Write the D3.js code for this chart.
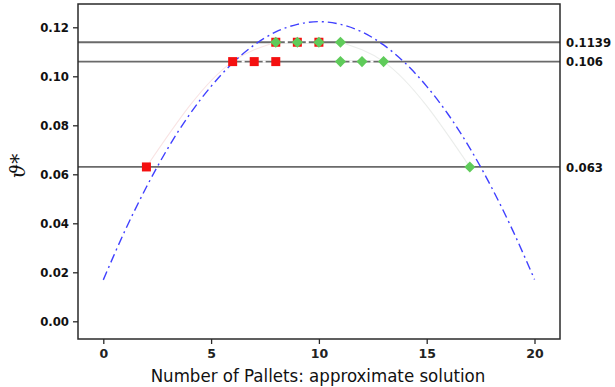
<!DOCTYPE html>
<html>
<head>
<meta charset="utf-8">
<script src="https://cdn.jsdelivr.net/npm/d3@7"></script>
<style>
  html, body { margin: 0; padding: 0; background: #fff; }
  svg { display: block; }
</style>
</head>
<body>
<svg id="chart" width="615" height="387"></svg>
<script>
// Number of pallets (x) and the theta* curve sampled at each count
const pallets = [0, 1, 2, 3, 4, 5, 6, 7, 8, 9, 10, 11, 12, 13, 14, 15, 16, 17, 18, 19, 20];
const thetaCurve = [0.0169, 0.0369, 0.0548, 0.0707, 0.0844, 0.0959, 0.1054, 0.1128, 0.1181, 0.1212, 0.1223,
                    0.1212, 0.1181, 0.1128, 0.1054, 0.0959, 0.0844, 0.0707, 0.0548, 0.0369, 0.0171];

// Threshold levels drawn as horizontal reference lines
const levels = [0.1139, 0.106, 0.063];
const levelLabels = ["0.1139", "0.106", "0.063"];

// Approximate solutions: left branch (red squares) and right branch (green diamonds)
const redX = [2, 6, 7, 8, 8, 9, 10];
const redY = [0.063, 0.106, 0.106, 0.106, 0.1139, 0.1139, 0.1139];
const greenX = [8, 9, 10, 11, 11, 12, 13, 17];
const greenY = [0.1139, 0.1139, 0.1139, 0.1139, 0.106, 0.106, 0.106, 0.063];

const xTicks = [0, 5, 10, 15, 20];
const yTicks = [0.00, 0.02, 0.04, 0.06, 0.08, 0.10, 0.12];

const svg = d3.select("#chart");
const frame = { left: 78, right: 560, top: 4, bottom: 339 };

const x = d3.scaleLinear().domain([0, 20]).range([103.3, 534.5]);
const y = d3.scaleLinear().domain([0, 0.12]).range([321.3, 27.3]);

const labelFont = "'DejaVu Sans Condensed', 'DejaVu Sans', sans-serif";

// Reference lines
svg.append("g").selectAll("line").data(levels).join("line")
  .attr("x1", frame.left).attr("x2", frame.right)
  .attr("y1", d => y(d)).attr("y2", d => y(d))
  .attr("stroke", "#6a6a6a").attr("stroke-width", 1.8);

// Series connectors at each level (broken dash-dot overlay)
function groupByLevel(xs, ys) {
  const g = d3.group(xs.map((v, i) => [v, ys[i]]), d => d[1]);
  return Array.from(g.values()).filter(a => a.length > 1);
}
const connector = d3.line().x(d => x(d[0])).y(d => y(d[1]));
svg.append("g").selectAll("path")
  .data(groupByLevel(redX, redY).concat(groupByLevel(greenX.slice(4), greenY.slice(4))))
  .join("path")
  .attr("d", connector)
  .attr("fill", "none")
  .attr("stroke", "#fff")
  .attr("stroke-width", 2.4)
  .attr("stroke-dasharray", "2,7,3,9");

// Faint branch curves through the outer solutions
const faint = d3.line().x(d => x(d[0])).y(d => y(d[1])).curve(d3.curveMonotoneX);
const redBranch = [[redX[0], redY[0]], [redX[1], redY[1]], [redX[4], redY[4]]];
const greenBranch = [[greenX[3], greenY[3]], [greenX[6], greenY[6]], [greenX[7], greenY[7]]];
svg.append("path").attr("d", faint(redBranch)).attr("fill", "none")
  .attr("stroke", "#f9e4e4").attr("stroke-width", 1.1);
svg.append("path").attr("d", faint(greenBranch)).attr("fill", "none")
  .attr("stroke", "#ebedeb").attr("stroke-width", 1.1);

// Theta* curve
const curve = d3.line().x((d, i) => x(pallets[i])).y(d => y(d)).curve(d3.curveMonotoneX);
svg.append("path").attr("d", curve(thetaCurve))
  .attr("fill", "none")
  .attr("stroke", "#4040ff")
  .attr("stroke-width", 1.4)
  .attr("stroke-dasharray", "9,4,2,4");

// Red squares
const sq = 9;
svg.append("g").selectAll("rect").data(redX.map((v, i) => [v, redY[i]])).join("rect")
  .attr("x", d => x(d[0]) - sq / 2).attr("y", d => y(d[1]) - sq / 2)
  .attr("width", sq).attr("height", sq)
  .attr("fill", "#f41010");

// Green diamonds
svg.append("g").selectAll("path").data(greenX.map((v, i) => [v, greenY[i]])).join("path")
  .attr("d", d3.symbol().type(d3.symbolDiamond2).size(78))
  .attr("transform", d => `translate(${x(d[0])},${y(d[1])})`)
  .attr("fill", "#5fcb5a");

// Frame
svg.append("rect")
  .attr("x", frame.left).attr("y", frame.top)
  .attr("width", frame.right - frame.left).attr("height", frame.bottom - frame.top)
  .attr("fill", "none").attr("stroke", "#2a2a2a").attr("stroke-width", 1.5);

// Y axis
const yAxis = svg.append("g").attr("transform", `translate(${frame.left},0)`)
  .call(d3.axisLeft(y).tickValues(yTicks).tickFormat(d3.format(".2f")).tickSize(5).tickPadding(4));
yAxis.select(".domain").remove();
yAxis.selectAll("line").attr("stroke", "#2a2a2a").attr("stroke-width", 1.3);
yAxis.selectAll("text")
  .attr("font-family", labelFont)
  .attr("font-weight", "bold").attr("font-size", 13).attr("fill", "#111");

// X axis
const xAxis = svg.append("g").attr("transform", `translate(0,${frame.bottom})`)
  .call(d3.axisBottom(x).tickValues(xTicks).tickFormat(d3.format("d")).tickSize(5).tickPadding(5));
xAxis.select(".domain").remove();
xAxis.selectAll("line").attr("stroke", "#2a2a2a").attr("stroke-width", 1.3);
xAxis.selectAll("text")
  .attr("font-family", "'DejaVu Sans', sans-serif").attr("font-size", 12.5)
  .attr("font-weight", 600).attr("fill", "#222");

// Level labels on the right
svg.append("g").selectAll("text").data(levels).join("text")
  .attr("x", 566).attr("y", d => y(d)).attr("dy", "0.35em")
  .attr("font-family", labelFont)
  .attr("font-weight", "bold").attr("font-size", 13).attr("fill", "#111")
  .text((d, i) => levelLabels[i]);

// Axis titles
svg.append("text")
  .attr("x", 318).attr("y", 382)
  .attr("text-anchor", "middle")
  .attr("font-family", labelFont)
  .attr("font-size", 18.5).attr("fill", "#111")
  .text("Number of Pallets: approximate solution");

svg.append("text")
  .attr("transform", "translate(25,166) rotate(-90)")
  .attr("text-anchor", "middle")
  .attr("font-family", "'DejaVu Serif', serif")
  .attr("font-style", "italic")
  .attr("font-size", 20).attr("fill", "#111")
  .text("ϑ*");
</script>
</body>
</html>
